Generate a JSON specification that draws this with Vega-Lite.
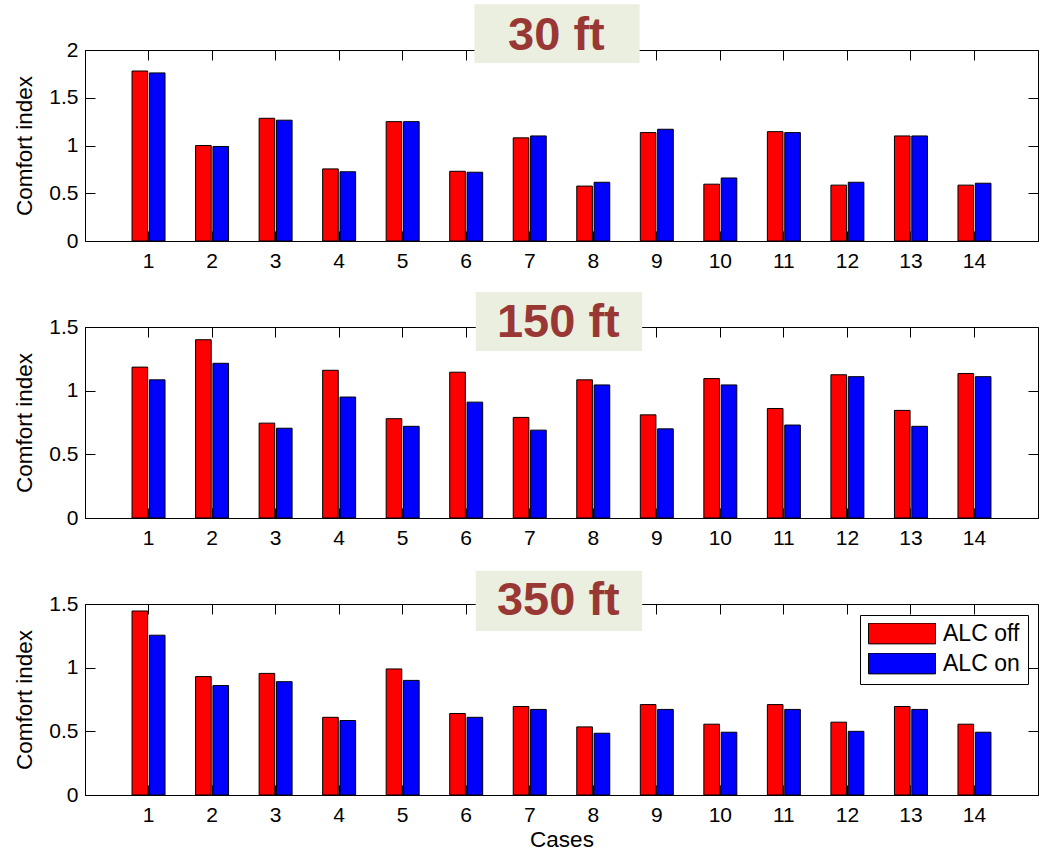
{
  "$schema": "https://vega.github.io/schema/vega-lite/v6.json",
  "background": "white",
  "padding": {"left": 13, "top": 3, "right": 5, "bottom": 5},
  "config": {
    "font": "Liberation Sans",
    "view": {"stroke": "black", "strokeWidth": 1},
    "axis": {
      "labelFont": "Liberation Sans",
      "labelFontSize": 21,
      "labelColor": "black",
      "titleFont": "Liberation Sans",
      "titleFontSize": 22.5,
      "titleFontWeight": "normal",
      "titleColor": "black",
      "domainColor": "black",
      "tickColor": "black",
      "grid": false
    }
  },
  "datasets": {
    "d30": [
      {"case": 1, "series": "ALC off", "value": 1.78}, {"case": 1, "series": "ALC on", "value": 1.76},
      {"case": 2, "series": "ALC off", "value": 1.00}, {"case": 2, "series": "ALC on", "value": 0.99},
      {"case": 3, "series": "ALC off", "value": 1.285}, {"case": 3, "series": "ALC on", "value": 1.265},
      {"case": 4, "series": "ALC off", "value": 0.755}, {"case": 4, "series": "ALC on", "value": 0.725},
      {"case": 5, "series": "ALC off", "value": 1.25}, {"case": 5, "series": "ALC on", "value": 1.25},
      {"case": 6, "series": "ALC off", "value": 0.73}, {"case": 6, "series": "ALC on", "value": 0.72},
      {"case": 7, "series": "ALC off", "value": 1.08}, {"case": 7, "series": "ALC on", "value": 1.10},
      {"case": 8, "series": "ALC off", "value": 0.575}, {"case": 8, "series": "ALC on", "value": 0.615},
      {"case": 9, "series": "ALC off", "value": 1.135}, {"case": 9, "series": "ALC on", "value": 1.17},
      {"case": 10, "series": "ALC off", "value": 0.595}, {"case": 10, "series": "ALC on", "value": 0.66},
      {"case": 11, "series": "ALC off", "value": 1.145}, {"case": 11, "series": "ALC on", "value": 1.135},
      {"case": 12, "series": "ALC off", "value": 0.585}, {"case": 12, "series": "ALC on", "value": 0.615},
      {"case": 13, "series": "ALC off", "value": 1.10}, {"case": 13, "series": "ALC on", "value": 1.10},
      {"case": 14, "series": "ALC off", "value": 0.585}, {"case": 14, "series": "ALC on", "value": 0.605}
    ],
    "d150": [
      {"case": 1, "series": "ALC off", "value": 1.185}, {"case": 1, "series": "ALC on", "value": 1.085},
      {"case": 2, "series": "ALC off", "value": 1.40}, {"case": 2, "series": "ALC on", "value": 1.215},
      {"case": 3, "series": "ALC off", "value": 0.745}, {"case": 3, "series": "ALC on", "value": 0.705},
      {"case": 4, "series": "ALC off", "value": 1.16}, {"case": 4, "series": "ALC on", "value": 0.95},
      {"case": 5, "series": "ALC off", "value": 0.78}, {"case": 5, "series": "ALC on", "value": 0.72},
      {"case": 6, "series": "ALC off", "value": 1.145}, {"case": 6, "series": "ALC on", "value": 0.91},
      {"case": 7, "series": "ALC off", "value": 0.79}, {"case": 7, "series": "ALC on", "value": 0.69},
      {"case": 8, "series": "ALC off", "value": 1.085}, {"case": 8, "series": "ALC on", "value": 1.045},
      {"case": 9, "series": "ALC off", "value": 0.81}, {"case": 9, "series": "ALC on", "value": 0.70},
      {"case": 10, "series": "ALC off", "value": 1.095}, {"case": 10, "series": "ALC on", "value": 1.045},
      {"case": 11, "series": "ALC off", "value": 0.86}, {"case": 11, "series": "ALC on", "value": 0.73},
      {"case": 12, "series": "ALC off", "value": 1.125}, {"case": 12, "series": "ALC on", "value": 1.11},
      {"case": 13, "series": "ALC off", "value": 0.845}, {"case": 13, "series": "ALC on", "value": 0.72},
      {"case": 14, "series": "ALC off", "value": 1.135}, {"case": 14, "series": "ALC on", "value": 1.11}
    ],
    "d350": [
      {"case": 1, "series": "ALC off", "value": 1.445}, {"case": 1, "series": "ALC on", "value": 1.255},
      {"case": 2, "series": "ALC off", "value": 0.93}, {"case": 2, "series": "ALC on", "value": 0.86},
      {"case": 3, "series": "ALC off", "value": 0.955}, {"case": 3, "series": "ALC on", "value": 0.89},
      {"case": 4, "series": "ALC off", "value": 0.61}, {"case": 4, "series": "ALC on", "value": 0.585},
      {"case": 5, "series": "ALC off", "value": 0.99}, {"case": 5, "series": "ALC on", "value": 0.90},
      {"case": 6, "series": "ALC off", "value": 0.64}, {"case": 6, "series": "ALC on", "value": 0.61},
      {"case": 7, "series": "ALC off", "value": 0.695}, {"case": 7, "series": "ALC on", "value": 0.672},
      {"case": 8, "series": "ALC off", "value": 0.535}, {"case": 8, "series": "ALC on", "value": 0.485},
      {"case": 9, "series": "ALC off", "value": 0.71}, {"case": 9, "series": "ALC on", "value": 0.672},
      {"case": 10, "series": "ALC off", "value": 0.556}, {"case": 10, "series": "ALC on", "value": 0.493},
      {"case": 11, "series": "ALC off", "value": 0.71}, {"case": 11, "series": "ALC on", "value": 0.672},
      {"case": 12, "series": "ALC off", "value": 0.572}, {"case": 12, "series": "ALC on", "value": 0.50},
      {"case": 13, "series": "ALC off", "value": 0.695}, {"case": 13, "series": "ALC on", "value": 0.672},
      {"case": 14, "series": "ALC off", "value": 0.556}, {"case": 14, "series": "ALC on", "value": 0.493}
    ]
  },
  "bounds": "flush",
  "spacing": 86,
  "resolve": {"scale": {"color": "independent", "x": "independent", "y": "independent"}},
  "vconcat": [
    {
      "width": 953,
      "height": 191,
      "data": {"name": "d30"},
      "resolve": {"scale": {"x": "independent"}, "axis": {"x": "independent", "y": "independent"}},
      "layer": [
        {
          "mark": {"type": "bar", "stroke": "black", "strokeWidth": 1},
          "encoding": {
            "x": {"field": "case", "type": "ordinal", "scale": {"domain": [1,2,3,4,5,6,7,8,9,10,11,12,13,14], "paddingInner": 0.481, "paddingOuter": 0.7405},
                  "axis": {"title": null, "labelAngle": 0, "tickSize": -10, "labelPadding": 19, "domain": true}},
            "xOffset": {"field": "series", "type": "nominal", "scale": {"paddingInner": 0.1, "paddingOuter": 0}},
            "y": {"field": "value", "type": "quantitative", "stack": null, "scale": {"domain": [0, 2], "nice": false},
                  "axis": {"title": "Comfort index", "values": [0, 0.5, 1, 1.5, 2], "format": "~g", "tickSize": -10, "labelPadding": 17, "titlePadding": 12}},
            "color": {"field": "series", "type": "nominal", "scale": {"domain": ["ALC off", "ALC on"], "range": ["#ff0000", "#0000ff"]}, "legend": null}
          }
        },
        {
          "mark": {"type": "bar", "opacity": 0},
          "encoding": {
            "x": {"field": "case", "type": "ordinal", "scale": {"domain": [1,2,3,4,5,6,7,8,9,10,11,12,13,14], "paddingInner": 0.481, "paddingOuter": 0.7405},
                  "axis": {"orient": "top", "title": null, "labels": false, "tickSize": -10, "domain": false}},
            "y": {"field": "value", "type": "quantitative", "stack": null, "scale": {"domain": [0, 2], "nice": false},
                  "axis": {"orient": "right", "title": null, "labels": false, "values": [0, 0.5, 1, 1.5, 2], "tickSize": -10, "domain": false}}
          }
        },
        {
          "data": {"values": [{"label": "30 ft"}]},
          "mark": {"type": "rect", "color": "#ebefe0"},
          "encoding": {
            "x": {"datum": 6.13, "type": "quantitative", "scale": {"domain": [0, 15], "nice": false}, "axis": null},
            "x2": {"datum": 8.73},
            "y": {"datum": 2.48, "type": "quantitative", "axis": null},
            "y2": {"datum": 1.864}
          }
        },
        {
          "data": {"values": [{"label": "30 ft"}]},
          "mark": {"type": "text", "font": "Liberation Sans", "fontWeight": "bold", "fontSize": 47, "color": "#993735", "baseline": "middle", "align": "center"},
          "encoding": {
            "x": {"datum": 7.42, "type": "quantitative", "scale": {"domain": [0, 15], "nice": false}, "axis": null},
            "y": {"datum": 2.15, "type": "quantitative", "axis": null},
            "text": {"field": "label"}
          }
        }
      ]
    },
    {
      "width": 953,
      "height": 191,
      "data": {"name": "d150"},
      "resolve": {"scale": {"x": "independent"}, "axis": {"x": "independent", "y": "independent"}},
      "layer": [
        {
          "mark": {"type": "bar", "stroke": "black", "strokeWidth": 1},
          "encoding": {
            "x": {"field": "case", "type": "ordinal", "scale": {"domain": [1,2,3,4,5,6,7,8,9,10,11,12,13,14], "paddingInner": 0.481, "paddingOuter": 0.7405},
                  "axis": {"title": null, "labelAngle": 0, "tickSize": -10, "labelPadding": 19, "domain": true}},
            "xOffset": {"field": "series", "type": "nominal", "scale": {"paddingInner": 0.1, "paddingOuter": 0}},
            "y": {"field": "value", "type": "quantitative", "stack": null, "scale": {"domain": [0, 1.5], "nice": false},
                  "axis": {"title": "Comfort index", "values": [0, 0.5, 1, 1.5], "format": "~g", "tickSize": -10, "labelPadding": 17, "titlePadding": 12}},
            "color": {"field": "series", "type": "nominal", "scale": {"domain": ["ALC off", "ALC on"], "range": ["#ff0000", "#0000ff"]}, "legend": null}
          }
        },
        {
          "mark": {"type": "bar", "opacity": 0},
          "encoding": {
            "x": {"field": "case", "type": "ordinal", "scale": {"domain": [1,2,3,4,5,6,7,8,9,10,11,12,13,14], "paddingInner": 0.481, "paddingOuter": 0.7405},
                  "axis": {"orient": "top", "title": null, "labels": false, "tickSize": -10, "domain": false}},
            "y": {"field": "value", "type": "quantitative", "stack": null, "scale": {"domain": [0, 1.5], "nice": false},
                  "axis": {"orient": "right", "title": null, "labels": false, "values": [0, 0.5, 1, 1.5], "tickSize": -10, "domain": false}}
          }
        },
        {
          "data": {"values": [{"label": "150 ft"}]},
          "mark": {"type": "rect", "color": "#ebefe0"},
          "encoding": {
            "x": {"datum": 6.15, "type": "quantitative", "scale": {"domain": [0, 15], "nice": false}, "axis": null},
            "x2": {"datum": 8.77},
            "y": {"datum": 1.775, "type": "quantitative", "axis": null},
            "y2": {"datum": 1.311}
          }
        },
        {
          "data": {"values": [{"label": "150 ft"}]},
          "mark": {"type": "text", "font": "Liberation Sans", "fontWeight": "bold", "fontSize": 47, "color": "#993735", "baseline": "middle", "align": "center"},
          "encoding": {
            "x": {"datum": 7.45, "type": "quantitative", "scale": {"domain": [0, 15], "nice": false}, "axis": null},
            "y": {"datum": 1.53, "type": "quantitative", "axis": null},
            "text": {"field": "label"}
          }
        }
      ]
    },
    {
      "width": 953,
      "height": 191,
      "data": {"name": "d350"},
      "resolve": {"scale": {"x": "independent"}, "axis": {"x": "independent", "y": "independent"}},
      "layer": [
        {
          "mark": {"type": "bar", "stroke": "black", "strokeWidth": 1},
          "encoding": {
            "x": {"field": "case", "type": "ordinal", "scale": {"domain": [1,2,3,4,5,6,7,8,9,10,11,12,13,14], "paddingInner": 0.481, "paddingOuter": 0.7405},
                  "axis": {"title": "Cases", "labelAngle": 0, "tickSize": -10, "labelPadding": 19, "domain": true, "titlePadding": 3}},
            "xOffset": {"field": "series", "type": "nominal", "scale": {"paddingInner": 0.1, "paddingOuter": 0}},
            "y": {"field": "value", "type": "quantitative", "stack": null, "scale": {"domain": [0, 1.5], "nice": false},
                  "axis": {"title": "Comfort index", "values": [0, 0.5, 1, 1.5], "format": "~g", "tickSize": -10, "labelPadding": 17, "titlePadding": 12}},
            "color": {"field": "series", "type": "nominal", "scale": {"domain": ["ALC off", "ALC on"], "range": ["#ff0000", "#0000ff"]},
                      "legend": {"title": null, "orient": "none", "legendX": 775, "legendY": 11, "fillColor": "white", "strokeColor": "black", "padding": 8,
                                 "symbolType": "M-1,-0.31L1,-0.31L1,0.31L-1,0.31Z", "symbolSize": 4489, "symbolStrokeColor": "black", "symbolStrokeWidth": 1,
                                 "clipHeight": 21,
                                 "labelFont": "Liberation Sans", "labelFontSize": 23, "labelColor": "black", "labelOffset": 7, "rowPadding": 6, "cornerRadius": 0}}
          }
        },
        {
          "mark": {"type": "bar", "opacity": 0},
          "encoding": {
            "x": {"field": "case", "type": "ordinal", "scale": {"domain": [1,2,3,4,5,6,7,8,9,10,11,12,13,14], "paddingInner": 0.481, "paddingOuter": 0.7405},
                  "axis": {"orient": "top", "title": null, "labels": false, "tickSize": -10, "domain": false}},
            "y": {"field": "value", "type": "quantitative", "stack": null, "scale": {"domain": [0, 1.5], "nice": false},
                  "axis": {"orient": "right", "title": null, "labels": false, "values": [0, 0.5, 1, 1.5], "tickSize": -10, "domain": false}}
          }
        },
        {
          "data": {"values": [{"label": "350 ft"}]},
          "mark": {"type": "rect", "color": "#ebefe0"},
          "encoding": {
            "x": {"datum": 6.15, "type": "quantitative", "scale": {"domain": [0, 15], "nice": false}, "axis": null},
            "x2": {"datum": 8.77},
            "y": {"datum": 1.76, "type": "quantitative", "axis": null},
            "y2": {"datum": 1.287}
          }
        },
        {
          "data": {"values": [{"label": "350 ft"}]},
          "mark": {"type": "text", "font": "Liberation Sans", "fontWeight": "bold", "fontSize": 47, "color": "#993735", "baseline": "middle", "align": "center"},
          "encoding": {
            "x": {"datum": 7.45, "type": "quantitative", "scale": {"domain": [0, 15], "nice": false}, "axis": null},
            "y": {"datum": 1.52, "type": "quantitative", "axis": null},
            "text": {"field": "label"}
          }
        }
      ]
    }
  ]
}
